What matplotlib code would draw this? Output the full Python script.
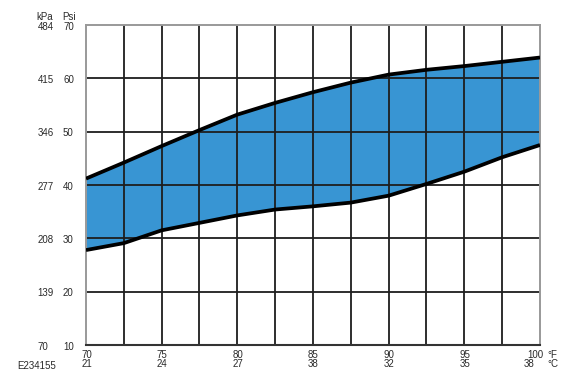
import matplotlib
matplotlib.use("Agg")
import matplotlib.pyplot as plt
import matplotlib.transforms as mtransforms

plt.rcParams['font.family'] = ['Liberation Sans', 'DejaVu Sans']

# Data (temperature in °F, pressure in psi)
temp_f = [70, 72.5, 75, 77.5, 80, 82.5, 85, 87.5, 90, 92.5, 95, 97.5, 100]
upper_psi = [41.2, 44.2, 47.3, 50.3, 53.2, 55.4, 57.4, 59.2, 60.7, 61.6, 62.3, 63.1, 63.9]
lower_psi = [27.8, 29.1, 31.5, 32.9, 34.3, 35.4, 36.0, 36.7, 38.0, 40.2, 42.5, 45.2, 47.5]

f_ticks = [70, 75, 80, 85, 90, 95, 100]
c_labels = ["21", "24", "27", "38", "32", "35", "38"]
psi_ticks = [10, 20, 30, 40, 50, 60, 70]
kpa_labels = ["70", "139", "208", "277", "346", "415", "484"]
grid_x = [70 + 2.5 * i for i in range(13)]
figure_id = "E234155"

W, H = 580, 379
fig = plt.figure(figsize=(5.8, 3.79), dpi=100)
ax = fig.add_axes([86/W, 34/H, 454/W, 320/H])
ax.set_xlim(70, 100)
ax.set_ylim(10, 70)

fill_color = "#3895d3"
ax.fill_between(temp_f, lower_psi, upper_psi, color=fill_color, lw=0, zorder=1)

grid_col = "#1e1e1e"
for gx in grid_x[1:-1]:
    ax.axvline(gx, color=grid_col, lw=1.3, zorder=2)
for gy in psi_ticks[1:-1]:
    ax.axhline(gy, color=grid_col, lw=1.3, zorder=2)

ax.plot(temp_f, upper_psi, color="black", lw=2.7, zorder=3, solid_capstyle='butt', solid_joinstyle='round')
ax.plot(temp_f, lower_psi, color="black", lw=2.7, zorder=3, solid_capstyle='butt', solid_joinstyle='round')

for side in ["left", "right", "top"]:
    ax.spines[side].set_color("#999999")
    ax.spines[side].set_linewidth(1.4)
ax.spines["bottom"].set_color("#333333")
ax.spines["bottom"].set_linewidth(1.5)
ax.set_xticks([])
ax.set_yticks([])

tc = "#2a2a2a"
fs = 7
down = mtransforms.ScaledTranslation(0, -1.6/100, fig.dpi_scale_trans)
# y labels
trans_y = mtransforms.blended_transform_factory(fig.transFigure, ax.transData) + down
for v, k in zip(psi_ticks, kpa_labels):
    ax.text(37.5/W, v, k, transform=trans_y, ha="left", va="center", fontsize=fs, color=tc)
    ax.text(63/W, v, str(v), transform=trans_y, ha="left", va="center", fontsize=fs, color=tc)
fig.text(36/W, 1 - 17/H, "kPa", ha="left", va="center", fontsize=fs, color=tc)
fig.text(62/W, 1 - 17/H, "Psi", ha="left", va="center", fontsize=fs, color=tc)

# x labels
trans_x = mtransforms.blended_transform_factory(ax.transData, fig.transFigure)
last_shift = mtransforms.ScaledTranslation(3.5/100, 0, fig.dpi_scale_trans)
for f, c in zip(f_ticks, c_labels):
    if f == f_ticks[-1]:
        tr = trans_x + last_shift
        ax.text(f, 1 - 354.5/H, str(f), transform=tr, ha="right", va="center", fontsize=fs, color=tc)
        ax.text(f - 0.75, 1 - 363.7/H, c, transform=trans_x, ha="center", va="center", fontsize=fs, color=tc)
    else:
        ax.text(f + 0.03, 1 - 354.5/H, str(f), transform=trans_x, ha="center", va="center", fontsize=fs, color=tc)
        ax.text(f + 0.03, 1 - 363.7/H, c, transform=trans_x, ha="center", va="center", fontsize=fs, color=tc)
fig.text(547.5/W, 1 - 354.5/H, "°F", ha="left", va="center", fontsize=fs, color=tc)
fig.text(547.5/W, 1 - 363.7/H, "°C", ha="left", va="center", fontsize=fs, color=tc)

fig.text(17/W, 1 - 366/H, figure_id, ha="left", va="center", fontsize=fs, color=tc)

fig.savefig("out.png", dpi=100)
